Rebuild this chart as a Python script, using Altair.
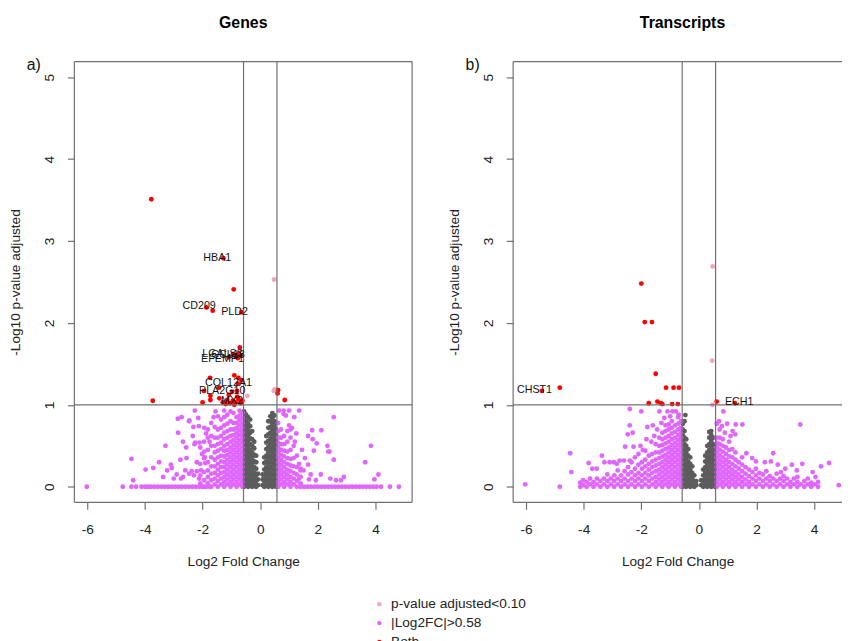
import altair as alt
import pandas as pd

FONT = "Liberation Sans"
LINE = "#707070"
CATS = ["p-value adjusted<0.10", "|Log2FC|>0.58", "Both", "NS"]
COLORS = ["#F3A5B6", "#E066FF", "#FF0000", "#5C5C5C"]
ORDER = {"NS": 0, CATS[0]: 1, CATS[1]: 2, CATS[2]: 3}
X_TICKS = [-6, -4, -2, 0, 2, 4]
Y_TICKS = [0, 1, 2, 3, 4, 5]

# ---------------- Panel a) Genes ----------------
A_GREY_COLS = [
    (-0.56, [0.0, 0.07, 0.14, 0.21, 0.28, 0.35, 0.42, 0.49, 0.56, 0.63, 0.7, 0.77, 0.84, 0.92]),
    (-0.49, [0.03, 0.1, 0.17, 0.24, 0.31, 0.38, 0.45, 0.52, 0.59, 0.66, 0.73, 0.8, 0.88]),
    (-0.42, [0.0, 0.07, 0.14, 0.21, 0.28, 0.35, 0.42, 0.49, 0.56, 0.63, 0.7, 0.77, 0.85]),
    (-0.35, [0.03, 0.1, 0.17, 0.24, 0.31, 0.38, 0.45, 0.52, 0.59, 0.66, 0.74, 0.82]),
    (-0.28, [0.0, 0.07, 0.14, 0.21, 0.28, 0.35, 0.42, 0.5, 0.58, 0.68]),
    (-0.21, [0.03, 0.1, 0.17, 0.24, 0.31, 0.39, 0.47, 0.55]),
    (-0.14, [0.0, 0.07, 0.14, 0.22, 0.3, 0.38]),
    (-0.08, [0.02, 0.09, 0.16]),
    (0.08, [0.02, 0.09, 0.15]),
    (0.14, [0.0, 0.07, 0.14, 0.21, 0.29, 0.36]),
    (0.21, [0.03, 0.1, 0.17, 0.24, 0.31, 0.38, 0.46, 0.54, 0.62]),
    (0.28, [0.0, 0.07, 0.14, 0.21, 0.28, 0.35, 0.42, 0.49, 0.56, 0.64, 0.72, 0.8]),
    (0.35, [0.03, 0.1, 0.17, 0.24, 0.31, 0.38, 0.45, 0.52, 0.59, 0.66, 0.73, 0.8, 0.86]),
    (0.42, [0.0, 0.07, 0.14, 0.21, 0.28, 0.35, 0.42, 0.49, 0.56, 0.63, 0.7, 0.77, 0.84, 0.9]),
    (0.49, [0.03, 0.1, 0.17, 0.24, 0.31, 0.38, 0.45, 0.52, 0.59, 0.66, 0.73, 0.8, 0.87]),
    (0.55, [0.0, 0.07, 0.14, 0.21, 0.28, 0.35, 0.42, 0.49, 0.56, 0.63, 0.7, 0.78]),
]
A_MAG_COLS = [
    (-0.62, [0.0, 0.06, 0.12, 0.18, 0.24, 0.3, 0.36, 0.42, 0.48, 0.54, 0.6, 0.66, 0.72, 0.78, 0.84, 0.9]),
    (-0.72, [0.03, 0.09, 0.15, 0.21, 0.27, 0.33, 0.39, 0.45, 0.51, 0.57, 0.63, 0.69, 0.75, 0.81, 0.87, 0.93]),
    (-0.82, [0.0, 0.06, 0.12, 0.18, 0.24, 0.3, 0.36, 0.42, 0.48, 0.54, 0.6, 0.66, 0.72, 0.78, 0.85]),
    (-0.93, [0.03, 0.09, 0.15, 0.21, 0.27, 0.33, 0.39, 0.45, 0.51, 0.57, 0.63, 0.7, 0.78, 0.9]),
    (-1.03, [0.0, 0.06, 0.12, 0.18, 0.24, 0.3, 0.36, 0.42, 0.48, 0.55, 0.62, 0.7, 0.8, 0.92]),
    (-1.14, [0.03, 0.09, 0.15, 0.21, 0.27, 0.33, 0.39, 0.45, 0.52, 0.6, 0.68, 0.77, 0.88]),
    (-1.25, [0.0, 0.06, 0.12, 0.18, 0.24, 0.3, 0.37, 0.44, 0.5, 0.58, 0.66, 0.75, 0.85, 0.93]),
    (-1.36, [0.03, 0.1, 0.17, 0.24, 0.31, 0.38, 0.46, 0.54, 0.62, 0.72, 0.82]),
    (-1.47, [0.0, 0.07, 0.14, 0.21, 0.28, 0.36, 0.44, 0.52, 0.6, 0.7, 0.86]),
    (-1.58, [0.03, 0.1, 0.17, 0.25, 0.33, 0.42, 0.5, 0.6, 0.73]),
    (-1.7, [0.0, 0.08, 0.16, 0.25, 0.36, 0.5, 0.62]),
    (-1.82, [0.04, 0.12, 0.2, 0.3, 0.45, 0.7]),
    (-1.95, [0.0, 0.08, 0.18, 0.35, 0.55]),
    (-2.08, [0.04, 0.14, 0.28, 0.48]),
    (0.62, [0.0, 0.06, 0.12, 0.18, 0.24, 0.3, 0.36, 0.42, 0.48, 0.54, 0.6, 0.68, 0.78]),
    (0.72, [0.03, 0.09, 0.15, 0.21, 0.27, 0.33, 0.39, 0.45, 0.52, 0.6, 0.7]),
    (0.83, [0.0, 0.06, 0.12, 0.18, 0.24, 0.3, 0.37, 0.44, 0.52, 0.62]),
    (0.94, [0.03, 0.09, 0.15, 0.21, 0.28, 0.35, 0.43, 0.55, 0.68]),
    (1.05, [0.0, 0.06, 0.12, 0.19, 0.26, 0.34, 0.45, 0.6, 0.7]),
    (1.16, [0.03, 0.1, 0.17, 0.25, 0.35, 0.5]),
    (1.27, [0.0, 0.07, 0.15, 0.24, 0.38]),
    (1.4, [0.04, 0.12, 0.22]),
]
A_MAG_PTS = [
    (-6.02, 0.0), (-4.47, 0.34), (-4.41, 0.08), (-3.98, 0.21), (-3.71, 0.23), (-3.51, 0.30),
    (-3.37, 0.12), (-3.29, 0.50), (-3.23, 0.20), (-3.10, 0.27), (-3.07, 0.23), (-2.85, 0.66),
    (-2.86, 0.83), (-2.73, 0.85), (-2.77, 0.33), (-2.68, 0.55), (-2.57, 0.48), (-2.56, 0.35),
    (-2.47, 0.80), (-2.75, 0.10), (-2.68, 0.12), (-2.47, 0.16), (-2.34, 0.62), (-2.32, 0.73),
    (-2.26, 0.54), (-2.15, 0.84), (-2.13, 0.74), (-2.11, 0.54), (-1.94, 0.72), (-1.88, 0.65),
    (-1.82, 0.60), (-1.76, 0.55), (-1.94, 0.43), (-1.92, 0.36), (-1.91, 0.29), (-2.38, 0.19),
    (-2.30, 0.14), (-2.20, 0.19), (-2.27, 0.93), (-2.46, 0.81), (-2.02, 0.40), (-2.28, 0.52),
    (-1.70, 0.78), (-1.62, 0.85), (-1.55, 0.92), (-3.00, 0.10), (-2.90, 0.15), (-2.60, 0.20),
    (-2.20, 0.30), (-2.05, 0.20), (-2.12, 0.10),
    (0.81, 0.93), (0.81, 0.89), (0.89, 0.87), (1.35, 0.93), (1.18, 0.85), (2.55, 0.85),
    (2.12, 0.69), (1.66, 0.62), (1.82, 0.58), (1.96, 0.53), (2.33, 0.50), (3.84, 0.50),
    (1.86, 0.44), (2.36, 0.43), (2.55, 0.33), (3.64, 0.30), (1.66, 0.27), (1.50, 0.20),
    (1.35, 0.28), (1.40, 0.20), (2.43, 0.10), (2.63, 0.08), (2.80, 0.08), (1.93, 0.08),
    (1.69, 0.09), (1.35, 0.10), (3.96, 0.09), (4.10, 0.15), (0.66, 0.93), (1.00, 0.75),
    (1.10, 0.72), (1.25, 0.65), (1.20, 0.55), (1.45, 0.45), (1.55, 0.35), (2.10, 0.15),
    (2.90, 0.12), (1.75, 0.15), (1.80, 0.69), (1.00, 0.93), (2.40, 0.43),
]
A_MAG_ZERO = [
    -4.77, -4.47, -4.31, -4.12, -4.0, -3.9, -3.8, -3.68, -3.56, -3.44, -3.32, -3.2, -3.08,
    -2.96, -2.84, -2.72, -2.6, -2.48, -2.36, -2.24, -2.12, -2.0, -1.88, -1.76,
    1.4, 1.52, 1.64, 1.76, 1.88, 2.0, 2.12, 2.24, 2.36, 2.48, 2.6, 2.72, 2.84, 2.96, 3.08,
    3.2, 3.32, 3.44, 3.56, 3.68, 3.8, 3.92, 4.04, 4.19, 4.5, 4.81,
]
A_PINK = [(0.48, 2.53), (0.47, 1.17), (0.50, 1.19), (-0.45, 1.11)]
A_RED = [
    (-3.78, 3.51), (-1.28, 2.79), (-0.92, 2.41), (-1.87, 2.19), (-1.65, 2.15), (-0.66, 2.13),
    (-0.71, 1.70), (-0.95, 1.62), (-0.85, 1.60), (-0.75, 1.63), (-0.68, 1.60), (-1.10, 1.58),
    (-0.78, 1.57), (-0.90, 1.36), (-1.74, 1.33), (-0.76, 1.33), (-0.78, 1.26), (-1.43, 1.21),
    (-1.95, 1.17), (-0.81, 1.17), (-0.98, 1.16), (-1.09, 1.12), (-1.73, 1.11), (-3.73, 1.05),
    (-2.00, 1.03), (-1.73, 1.06), (-1.42, 1.08), (-1.30, 1.03), (-1.15, 1.06), (-1.05, 1.02),
    (-0.95, 1.05), (-0.85, 1.03), (-0.75, 1.07), (-0.68, 1.02), (-0.62, 1.05), (-0.80, 1.10),
    (-1.20, 1.01), (-0.90, 1.00), (0.62, 1.18), (0.60, 1.14), (0.85, 1.06), (-0.65, 1.30),
]
A_LABELS = [
    ("HBA1", -1.49, 2.79), ("CD209", -2.12, 2.205), ("PLD2", -0.89, 2.13),
    ("LGALS3", -1.31, 1.62), ("CCL18", -1.12, 1.605), ("EFEMP1", -1.31, 1.565),
    ("COL12A1", -1.10, 1.27), ("PLA2G10", -1.32, 1.17), ("MX2", -0.98, 1.05),
]

# ---------------- Panel b) Transcripts ----------------
B_GREY_COLS = [
    (-0.56, [0.0, 0.07, 0.14, 0.21, 0.28, 0.35, 0.42, 0.49, 0.56, 0.63, 0.7, 0.77]),
    (-0.5, [0.03, 0.1, 0.17, 0.24, 0.31, 0.38, 0.45, 0.52, 0.6, 0.68, 0.8]),
    (-0.44, [0.0, 0.07, 0.14, 0.21, 0.28, 0.35, 0.42, 0.5, 0.58]),
    (-0.37, [0.03, 0.1, 0.17, 0.24, 0.31, 0.38, 0.46]),
    (-0.3, [0.0, 0.07, 0.14, 0.21, 0.28, 0.36]),
    (-0.23, [0.03, 0.1, 0.17, 0.25]),
    (-0.16, [0.0, 0.07, 0.14]),
    (-0.09, [0.02, 0.07]),
    (0.08, [0.02, 0.08]),
    (0.15, [0.0, 0.07, 0.14, 0.21]),
    (0.22, [0.03, 0.1, 0.17, 0.24, 0.31, 0.38]),
    (0.29, [0.0, 0.07, 0.14, 0.21, 0.28, 0.35, 0.42, 0.5]),
    (0.36, [0.03, 0.1, 0.17, 0.24, 0.31, 0.38, 0.45, 0.52, 0.6, 0.67]),
    (0.43, [0.0, 0.07, 0.14, 0.21, 0.28, 0.35, 0.42, 0.49, 0.56, 0.63, 0.68]),
    (0.5, [0.03, 0.1, 0.17, 0.24, 0.31, 0.38, 0.45, 0.52, 0.6]),
    (0.56, [0.0, 0.07, 0.14, 0.21, 0.28, 0.35, 0.42, 0.5]),
]
B_GREY_PTS = [(-0.47, 0.875)]
B_MAG_COLS = [
    (-0.62, [0.0, 0.06, 0.12, 0.18, 0.24, 0.3, 0.36, 0.42, 0.48, 0.54, 0.6, 0.66, 0.72, 0.8]),
    (-0.72, [0.03, 0.09, 0.15, 0.21, 0.27, 0.33, 0.39, 0.45, 0.51, 0.57, 0.63, 0.7, 0.77, 0.85]),
    (-0.83, [0.0, 0.06, 0.12, 0.18, 0.24, 0.3, 0.36, 0.42, 0.48, 0.54, 0.6, 0.67, 0.75]),
    (-0.94, [0.03, 0.09, 0.15, 0.21, 0.27, 0.33, 0.39, 0.45, 0.51, 0.58, 0.65, 0.72, 0.8]),
    (-1.05, [0.0, 0.06, 0.12, 0.18, 0.24, 0.3, 0.36, 0.42, 0.48, 0.55, 0.62, 0.7, 0.76]),
    (-1.16, [0.03, 0.09, 0.15, 0.21, 0.27, 0.33, 0.39, 0.46, 0.53, 0.6, 0.68, 0.75]),
    (-1.27, [0.0, 0.06, 0.12, 0.18, 0.24, 0.3, 0.37, 0.44, 0.51, 0.58, 0.66]),
    (-1.38, [0.03, 0.09, 0.15, 0.21, 0.28, 0.35, 0.42, 0.5, 0.6]),
    (-1.5, [0.0, 0.06, 0.12, 0.19, 0.26, 0.33, 0.42, 0.52]),
    (-1.62, [0.03, 0.1, 0.17, 0.24, 0.31, 0.4]),
    (-1.74, [0.0, 0.07, 0.14, 0.21, 0.28, 0.38]),
    (-1.86, [0.03, 0.1, 0.17, 0.25, 0.33, 0.44]),
    (-1.98, [0.0, 0.07, 0.14, 0.22, 0.3]),
    (-2.1, [0.03, 0.1, 0.17, 0.27]),
    (-2.22, [0.0, 0.07, 0.14, 0.22, 0.36]),
    (-2.34, [0.03, 0.1, 0.18, 0.3]),
    (-2.46, [0.0, 0.07, 0.15, 0.24]),
    (-2.58, [0.03, 0.1, 0.19]),
    (-2.7, [0.0, 0.07, 0.14]),
    (-2.82, [0.03, 0.1, 0.2]),
    (-2.94, [0.0, 0.07, 0.14]),
    (-3.06, [0.03, 0.1]),
    (-3.18, [0.0, 0.07, 0.15]),
    (-3.3, [0.03, 0.1]),
    (-3.42, [0.0, 0.07]),
    (-3.54, [0.03, 0.1]),
    (-3.66, [0.0, 0.06]),
    (-3.78, [0.03, 0.1]),
    (-3.9, [0.0, 0.06]),
    (-4.02, [0.02, 0.08]),
    (-4.12, [0.0, 0.05]),
    (0.62, [0.0, 0.06, 0.12, 0.18, 0.24, 0.3, 0.36, 0.42, 0.48, 0.54, 0.6]),
    (0.72, [0.03, 0.09, 0.15, 0.21, 0.27, 0.33, 0.39, 0.45, 0.52, 0.6, 0.7]),
    (0.83, [0.0, 0.06, 0.12, 0.18, 0.24, 0.3, 0.36, 0.43, 0.5, 0.58]),
    (0.94, [0.03, 0.09, 0.15, 0.21, 0.27, 0.33, 0.4, 0.48]),
    (1.05, [0.0, 0.06, 0.12, 0.18, 0.24, 0.3, 0.37, 0.45, 0.55]),
    (1.16, [0.03, 0.09, 0.15, 0.21, 0.28, 0.36, 0.46]),
    (1.27, [0.0, 0.06, 0.12, 0.18, 0.25, 0.33, 0.42]),
    (1.38, [0.03, 0.09, 0.15, 0.22, 0.3]),
    (1.5, [0.0, 0.06, 0.12, 0.19, 0.27, 0.36]),
    (1.62, [0.03, 0.09, 0.16, 0.24]),
    (1.74, [0.0, 0.06, 0.13, 0.21]),
    (1.86, [0.03, 0.1, 0.18]),
    (1.98, [0.0, 0.07, 0.14, 0.22]),
    (2.1, [0.03, 0.1, 0.17]),
    (2.22, [0.0, 0.07, 0.15]),
    (2.34, [0.03, 0.1, 0.19]),
    (2.46, [0.0, 0.07, 0.13]),
    (2.58, [0.03, 0.1]),
    (2.7, [0.0, 0.07, 0.16]),
    (2.82, [0.03, 0.1]),
    (2.94, [0.0, 0.07, 0.13]),
    (3.06, [0.03, 0.1]),
    (3.18, [0.0, 0.06]),
    (3.3, [0.03, 0.1]),
    (3.42, [0.0, 0.06, 0.12]),
    (3.54, [0.03]),
    (3.66, [0.0, 0.07]),
    (3.78, [0.03, 0.1]),
    (3.9, [0.0, 0.05]),
    (4.02, [0.03]),
    (4.14, [0.0, 0.06]),
]
B_MAG_PTS = [
    (-6.03, 0.03), (-4.83, 0.0), (-4.47, 0.41), (-4.43, 0.18), (-3.83, 0.29), (-3.70, 0.22),
    (-3.55, 0.22), (-3.37, 0.38), (-3.28, 0.30), (-3.10, 0.30), (-2.95, 0.30), (-2.85, 0.28),
    (-2.75, 0.32), (-2.60, 0.32), (-2.40, 0.32), (-2.56, 0.49), (-2.27, 0.49), (-2.47, 0.64),
    (-2.30, 0.66), (-2.40, 0.75), (-1.82, 0.58), (-1.79, 0.73), (-2.40, 0.95), (-2.00, 0.92),
    (-1.37, 0.92), (-1.09, 0.92), (-0.92, 0.92), (-0.80, 0.92), (-2.03, 0.50), (-1.95, 0.45),
    (-2.10, 0.40), (-1.65, 0.55), (-1.55, 0.62), (-1.45, 0.70), (-1.60, 0.75), (-1.30, 0.78),
    (-1.20, 0.84), (-1.00, 0.86), (-0.70, 0.88),
    (0.85, 0.92), (0.62, 0.77), (0.80, 0.74), (0.98, 0.77), (1.28, 0.76), (1.51, 0.76),
    (3.52, 0.76), (1.17, 0.68), (1.26, 0.64), (2.58, 0.41), (1.65, 0.41), (1.98, 0.31),
    (2.29, 0.30), (2.50, 0.31), (2.74, 0.27), (3.23, 0.27), (3.59, 0.28), (4.52, 0.29),
    (4.24, 0.25), (4.86, 0.02), (1.85, 0.35), (1.10, 0.62), (0.90, 0.66), (0.70, 0.80),
    (3.95, 0.18), (4.05, 0.12), (3.40, 0.20), (3.00, 0.22), (2.85, 0.18),
]
B_PINK = [(0.48, 2.69), (0.46, 1.54), (0.47, 1.00)]
B_RED = [
    (-2.00, 2.48), (-1.88, 2.01), (-1.63, 2.01), (-1.50, 1.38), (-1.14, 1.21), (-0.88, 1.21),
    (-0.69, 1.21), (-4.83, 1.21), (-5.45, 1.17), (-1.74, 1.02), (-1.44, 1.04), (-1.32, 1.02),
    (-1.27, 1.01), (-0.93, 1.01), (-0.73, 1.01), (0.62, 1.04), (1.25, 1.02),
]
B_LABELS = [("CHST1", -5.71, 1.18), ("ECH1", 1.40, 1.03)]


def build(grey_cols, grey_pts, mag_cols, mag_pts, mag_zero, pink, red):
    rows = []
    for x, ys in grey_cols:
        rows += [(x, y, "NS") for y in ys]
    rows += [(x, y, "NS") for x, y in grey_pts]
    for x, ys in mag_cols:
        rows += [(x, y, CATS[1]) for y in ys]
    rows += [(x, y, CATS[1]) for x, y in mag_pts]
    rows += [(x, 0.0, CATS[1]) for x in mag_zero]
    rows += [(x, y, CATS[0]) for x, y in pink]
    rows += [(x, y, CATS[2]) for x, y in red]
    df = pd.DataFrame(rows, columns=["x", "y", "cat"])
    df["ord"] = df["cat"].map(ORDER)
    return df


H = 445


def panel(df, labels, title, tag, width, xmax, title_dx, right_border):
    xs = alt.Scale(domain=[-6.45, xmax], nice=False, zero=False)
    ys = alt.Scale(domain=[-0.19, 5.19], nice=False, zero=False)
    common = dict(grid=False, domain=False, tickSize=7, tickColor=LINE, tickWidth=1.2,
                  labelFont=FONT, titleFont=FONT, labelFontSize=13.8, titleFontSize=13.8,
                  labelColor="#222", titleColor="#222", titleFontWeight="normal",
                  labelExpr="datum.value + ''")
    xaxis = alt.Axis(values=X_TICKS, title="Log2 Fold Change", labelPadding=13,
                     titlePadding=19, **common)
    yaxis = alt.Axis(values=Y_TICKS, title="-Log10 p-value adjusted", labelAngle=270,
                     labelAlign="center", labelBaseline="bottom", labelPadding=11,
                     titlePadding=20, **common)
    X = alt.X("x:Q", scale=xs, axis=xaxis)
    Y = alt.Y("y:Q", scale=ys, axis=yaxis)

    pts = alt.Chart(df).mark_circle(size=24, opacity=1).encode(
        x=X, y=Y,
        color=alt.Color("cat:N", scale=alt.Scale(domain=CATS, range=COLORS),
                        legend=alt.Legend(values=CATS[:3], title=None)),
        order=alt.Order("ord:Q"),
    )
    vl = alt.Chart(pd.DataFrame({"x": [-0.58, 0.58]})).mark_rule(
        color=LINE, strokeWidth=1.2).encode(x=X)
    hl = alt.Chart(pd.DataFrame({"y": [1.0]})).mark_rule(
        color=LINE, strokeWidth=1.2).encode(y=Y)
    lab = alt.Chart(pd.DataFrame(labels, columns=["t", "x", "y"])).mark_text(
        fontSize=10.8, font=FONT, color="#111").encode(x=X, y=Y, text="t:N")
    tagc = alt.Chart(pd.DataFrame({"t": [tag]})).mark_text(
        fontSize=16, font=FONT, align="left", baseline="middle", color="#111").encode(
        x=alt.value(-48), y=alt.value(3), text="t:N")
    frame = [
        alt.Chart().mark_rule(color=LINE, strokeWidth=1.2).encode(x=alt.value(0)),
        alt.Chart().mark_rule(color=LINE, strokeWidth=1.2).encode(y=alt.value(0)),
        alt.Chart().mark_rule(color=LINE, strokeWidth=1.2).encode(y=alt.value(H)),
    ]
    if right_border:
        frame.append(alt.Chart().mark_rule(color=LINE, strokeWidth=1.2).encode(x=alt.value(width)))
    return alt.layer(pts, vl, hl, lab, tagc, *frame).properties(
        width=width, height=H,
        title=alt.TitleParams(text=title, fontSize=16, fontWeight="bold", font=FONT,
                              color="#000", offset=26, anchor="middle", dx=title_dx),
    )


dfa = build(A_GREY_COLS, [], A_MAG_COLS, A_MAG_PTS, A_MAG_ZERO, A_PINK, A_RED)
dfb = build(B_GREY_COLS, B_GREY_PTS, B_MAG_COLS, B_MAG_PTS, [], B_PINK, B_RED)

pa = panel(dfa, A_LABELS, "Genes", "a)", 341, 5.27, 0, True)
pb = panel(dfb, B_LABELS, "Transcripts", "b)", 332, 4.97, 5, False)

chart = alt.hconcat(pa, pb, spacing=102, bounds="flush").properties(
    autosize=alt.AutoSizeParams(type="none"),
    padding={"left": 67, "top": 49, "right": 775, "bottom": 571},
).configure_view(stroke=None).configure_legend(
    orient="none", legendX=301, legendY=541, padding=0, labelFont=FONT,
    labelFontSize=13.8, labelColor="#222", symbolSize=20, symbolType="circle",
    symbolStrokeWidth=0, labelOffset=5, rowPadding=4,
)

chart.save("out.html", embed_options={"renderer": "svg", "actions": False})
